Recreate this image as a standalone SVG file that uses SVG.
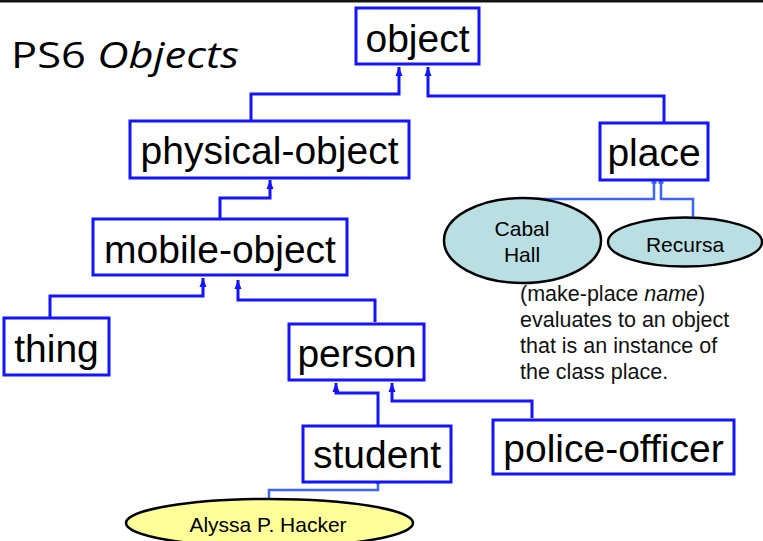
<svg xmlns="http://www.w3.org/2000/svg" width="763" height="541" viewBox="0 0 763 541">
<defs>
<style>
.box{fill:#fff;stroke:#1414ff;stroke-width:3}
.lbl{font-family:"Liberation Sans",Arial,sans-serif;font-size:39px;fill:#000;text-anchor:middle}
.conn{fill:none;stroke:#1414ff;stroke-width:3}
.inst{fill:none;stroke:#3a66ff;stroke-width:2.5}
.small{font-family:"Liberation Sans",Arial,sans-serif;font-size:21px;fill:#000;text-anchor:middle}
.note{font-family:"Liberation Sans",Arial,sans-serif;font-size:21.5px;fill:#111}
</style>
<marker id="ah" markerUnits="userSpaceOnUse" markerWidth="8" markerHeight="10" viewBox="0 0 8 10" refX="4" refY="0" orient="0">
<path d="M4,0 L7.5,9 L0.5,9 Z" fill="#1414ff"/>
</marker>
<marker id="dot" markerUnits="userSpaceOnUse" markerWidth="8" markerHeight="8" viewBox="0 0 8 8" refX="4" refY="3" orient="0">
<path d="M4,0 L7,4 L4,6 L1,4 Z" fill="#3a66ff"/>
</marker>
</defs>
<rect x="0" y="0" width="763" height="2.5" fill="#141414"/>
<text x="11" y="68" font-family="'Open Sans','DejaVu Sans',sans-serif" font-size="37" fill="#000" textLength="228" lengthAdjust="spacingAndGlyphs">PS6 <tspan font-style="italic">Objects</tspan></text>
<g id="connectors">
<path class="conn" d="M251,121 V94 H399 V67" marker-end="url(#ah)"/>
<path class="conn" d="M664,123 V96 H428 V67" marker-end="url(#ah)"/>
<path class="conn" d="M220,219 V198 H270 V180" marker-end="url(#ah)"/>
<path class="conn" d="M50,318 V296 H203 V278" marker-end="url(#ah)"/>
<path class="conn" d="M375,322 V300 H238 V280" marker-end="url(#ah)"/>
<path class="conn" d="M378,426 V393 H336 V383" marker-end="url(#ah)"/>
<path class="conn" d="M532,418 V401 H392 V383" marker-end="url(#ah)"/>
<path class="inst" d="M522,199 H654 V182" marker-end="url(#dot)"/>
<path class="inst" d="M693,217 V199 H661 V182" marker-end="url(#dot)"/>
<path class="inst" d="M269,499 V490 H378 V482" marker-end="url(#dot)"/>
</g>
<g id="object"><rect class="box" x="356" y="8" width="123" height="56"/><text class="lbl" x="417.5" y="52">object</text></g>
<g id="physical-object"><rect class="box" x="130" y="121" width="279" height="57"/><text class="lbl" x="269.5" y="164">physical-object</text></g>
<g id="place"><rect class="box" x="600" y="123" width="108" height="57"/><text class="lbl" x="654" y="166">place</text></g>
<g id="mobile-object"><rect class="box" x="93" y="219" width="254" height="56"/><text class="lbl" x="220" y="263">mobile-object</text></g>
<g id="thing"><rect class="box" x="4" y="318" width="105" height="57"/><text class="lbl" x="56.5" y="362">thing</text></g>
<g id="person"><rect class="box" x="289" y="324" width="135" height="56"/><text class="lbl" x="357" y="367">person</text></g>
<g id="student"><rect class="box" x="303" y="426" width="148" height="56"/><text class="lbl" x="377" y="468">student</text></g>
<g id="police-officer"><rect class="box" x="493" y="420" width="241" height="54"/><text class="lbl" x="613.5" y="462">police-officer</text></g>
<g id="cabal-hall"><ellipse cx="522.5" cy="240.5" rx="78.5" ry="42.5" fill="#b9dfe2" stroke="#000" stroke-width="2.5"/><text class="small" x="522" y="236">Cabal</text><text class="small" x="522" y="262">Hall</text></g>
<g id="recursa"><ellipse cx="685" cy="242" rx="77" ry="24.5" fill="#b9dfe2" stroke="#000" stroke-width="2.5"/><text class="small" x="685" y="252">Recursa</text></g>
<g id="alyssa"><ellipse cx="269.5" cy="523" rx="143.5" ry="24" fill="#ffff99" stroke="#000" stroke-width="2.5"/><text class="small" x="268" y="532">Alyssa P. Hacker</text></g>
<g id="note">
<text class="note" x="520" y="301">(make-place <tspan font-style="italic">name</tspan>)</text>
<text class="note" x="520" y="327">evaluates to an object</text>
<text class="note" x="520" y="353">that is an instance of</text>
<text class="note" x="520" y="379">the class place.</text>
</g>
</svg>
